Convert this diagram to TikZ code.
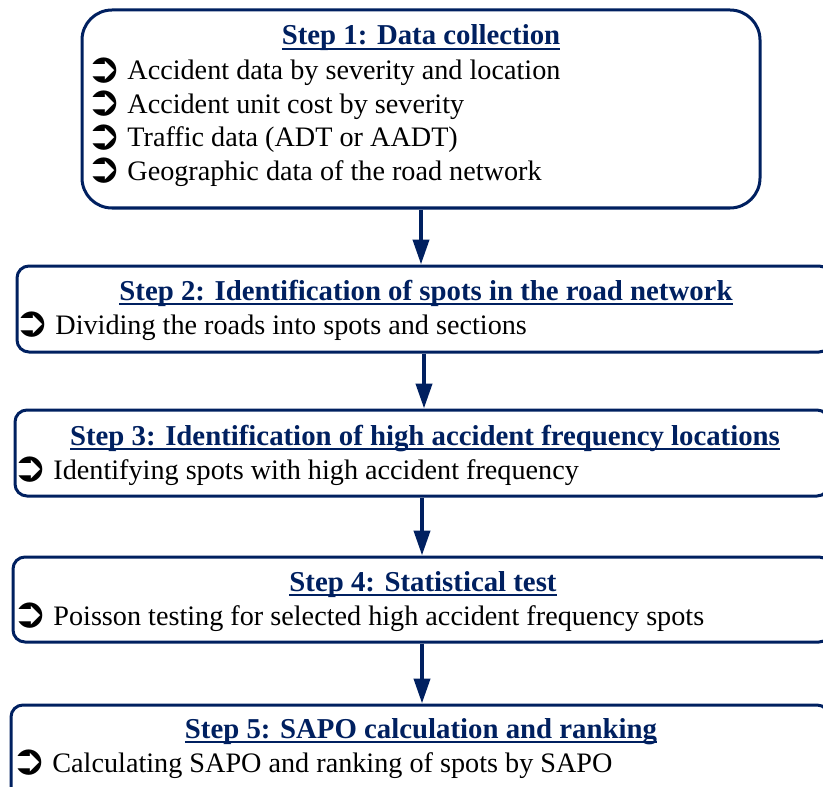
\documentclass[tikz,border=0pt]{standalone}
\usepackage{fontspec}
\setmainfont{Liberation Serif}
\newfontfamily\dejavu{DejaVu Sans}
\usetikzlibrary{arrows.meta,fit}

\definecolor{navy}{RGB}{0,32,96}
% bullet arrow and underlined title
\newcommand{\bul}{\makebox[16pt][l]{\hspace{-4.4pt}\raisebox{-1.2pt}[0pt][0pt]{\dejavu\fontsize{21}{21}\selectfont\char"27B2}}}
\newcommand{\titul}[1]{\setbox0\hbox{#1}\rlap{\rule[-2.3pt]{\wd0}{0.9pt}}\box0}

\begin{document}
\begin{tikzpicture}[x=0.5pt,y=-0.5pt,
    stepbox/.style={draw=navy, line width=1.5pt, inner sep=0pt, rounded corners=6pt},
    steptitle/.style={anchor=base, inner sep=0pt, text=navy, font=\fontsize{14.4}{16}\selectfont\bfseries},
    item/.style={anchor=base west, inner sep=0pt, font=\fontsize{14.1}{16}\selectfont},
    flow/.style={draw=navy, line width=2pt, -{Triangle[width=8pt,length=12.5pt]}}]
  \useasboundingbox (0,0) rectangle (823,786);
  % boxes
  \node[stepbox, rounded corners=15pt, fit={(82,10) (760,208)}] (s1) {};
  \node[stepbox, fit={(17,266) (831,352)}] (s2) {};
  \node[stepbox, fit={(15,410) (829,496)}] (s3) {};
  \node[stepbox, fit={(13,557) (831,642)}] (s4) {};
  \node[stepbox, fit={(11,705) (829,830)}] (s5) {};
  % step 1
  \node[steptitle] (t1) at (421,45) {\titul{Step 1: Data collection}};
  \node[item] (i11) at (95,80) {\bul Accident data by severity and location};
  \node[item] (i12) at (95,113.5) {\bul Accident unit cost by severity};
  \node[item] (i13) at (95,147) {\bul Traffic data (ADT or AADT)};
  \node[item] (i14) at (95,180.5) {\bul Geographic data of the road network};
  % step 2
  \node[steptitle] (t2) at (426,300) {\titul{Step 2: Identification of spots in the road network}};
  \node[item] (i21) at (23,334) {\bul Dividing the roads into spots and sections};
  % step 3
  \node[steptitle] (t3) at (425,445) {\titul{Step 3: Identification of high accident frequency locations}};
  \node[item] (i31) at (21,479) {\bul Identifying spots with high accident frequency};
  % step 4
  \node[steptitle] (t4) at (423,591) {\titul{Step 4: Statistical test}};
  \node[item] (i41) at (21,625) {\bul Poisson testing for selected high accident frequency spots};
  % step 5
  \node[steptitle] (t5) at (421,738) {\titul{Step 5: SAPO calculation and ranking}};
  \node[item] (i51) at (20,772) {\bul Calculating SAPO and ranking of spots by SAPO};
  % arrows
  \draw[flow] (s1.south) -- (s1.south |- s2.north);
  \draw[flow] (s2.south) -- (s2.south |- s3.north);
  \draw[flow] (s3.south) -- (s3.south |- s4.north);
  \draw[flow] (s4.south) -- (s4.south |- s5.north);
\end{tikzpicture}
\end{document}
